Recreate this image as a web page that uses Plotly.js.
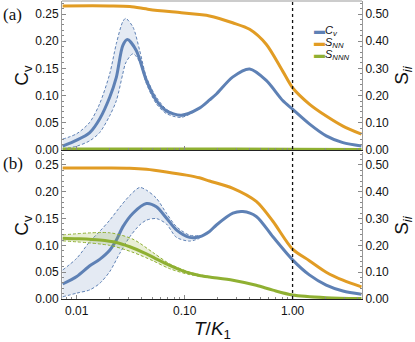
<!DOCTYPE html>
<html>
<head>
<meta charset="utf-8">
<script src="https://cdn.plot.ly/plotly-3.0.1.min.js"></script>
<style>
  body { margin: 0; background: #fff; }
  #chart { width: 415px; height: 342px; }
</style>
</head>
<body>
<div id="chart"></div>
<script>
// panel (a)
var tA = [0.0074, 0.010, 0.0132, 0.0163, 0.0202, 0.0233, 0.0267, 0.0295, 0.0356, 0.0442, 0.0547, 0.0677, 0.093, 0.137, 0.170, 0.197, 0.278, 0.40, 0.57, 0.81, 1.0, 1.43, 2.05, 2.93, 4.35];
var cvA = [0.007, 0.018, 0.032, 0.057, 0.097, 0.134, 0.192, 0.203, 0.183, 0.128, 0.091, 0.072, 0.064, 0.077, 0.092, 0.103, 0.134, 0.149, 0.128, 0.091, 0.075, 0.048, 0.026, 0.0135, 0.0074];
var tBandA = [0.0074, 0.010, 0.0132, 0.0163, 0.0202, 0.0233, 0.0267, 0.0284, 0.0332, 0.0383, 0.0442, 0.0547, 0.0677, 0.093, 0.137];
var cvUpA = [0.020, 0.030, 0.051, 0.085, 0.140, 0.196, 0.236, 0.242, 0.226, 0.183, 0.134, 0.097, 0.075, 0.063, 0.078];
var cvLoA = [0.002, 0.007, 0.017, 0.032, 0.063, 0.091, 0.140, 0.160, 0.177, 0.162, 0.122, 0.085, 0.067, 0.060, 0.076];
var tSA = [0.0074, 0.020, 0.031, 0.047, 0.093, 0.137, 0.170, 0.278, 0.40, 0.57, 0.81, 1.0, 1.43, 2.05, 2.93, 4.35];
var snnA = [0.530, 0.530, 0.528, 0.517, 0.505, 0.498, 0.493, 0.468, 0.444, 0.389, 0.290, 0.229, 0.169, 0.125, 0.088, 0.058];
var tGA = [0.0074, 0.1, 1.0, 4.35];
var snnnA = [0.004, 0.004, 0.003, 0.002];

// panel (b)
var tB = [0.0074, 0.010, 0.0132, 0.0163, 0.0202, 0.0233, 0.0268, 0.0332, 0.0442, 0.0547, 0.0677, 0.0838, 0.111, 0.137, 0.170, 0.197, 0.280, 0.346, 0.461, 0.657, 1.0, 1.43, 2.05, 2.93, 4.35];
var cvB = [0.028, 0.042, 0.062, 0.074, 0.091, 0.110, 0.135, 0.160, 0.178, 0.172, 0.151, 0.129, 0.115, 0.116, 0.126, 0.138, 0.160, 0.163, 0.154, 0.116, 0.073, 0.045, 0.026, 0.015, 0.009];
var tBandB = [0.0074, 0.010, 0.0132, 0.0163, 0.0202, 0.025, 0.031, 0.0383, 0.0442, 0.0547, 0.0677, 0.0838, 0.111, 0.137];
var cvUpB = [0.054, 0.076, 0.107, 0.126, 0.147, 0.171, 0.193, 0.208, 0.203, 0.188, 0.160, 0.135, 0.119, 0.118];
var cvLoB = [0.004, 0.011, 0.017, 0.029, 0.051, 0.085, 0.116, 0.138, 0.147, 0.150, 0.140, 0.115, 0.108, 0.113];
var tSB = [0.0074, 0.020, 0.031, 0.0442, 0.0677, 0.1037, 0.137, 0.170, 0.280, 0.461, 0.657, 1.0, 1.43, 2.05, 2.93, 4.35];
var snnB = [0.489, 0.489, 0.488, 0.484, 0.474, 0.462, 0.452, 0.440, 0.413, 0.364, 0.290, 0.186, 0.143, 0.100, 0.070, 0.045];
var tGB = [0.0074, 0.010, 0.0163, 0.0233, 0.031, 0.0442, 0.0677, 0.1037, 0.137, 0.170, 0.280, 0.461, 0.657, 1.0, 2.05, 4.35];
var snnnB = [0.227, 0.225, 0.220, 0.211, 0.195, 0.168, 0.131, 0.100, 0.088, 0.082, 0.070, 0.051, 0.033, 0.015, 0.005, 0.002];
var tGBand = [0.0074, 0.0202, 0.0332, 0.0506, 0.0727, 0.1113, 0.170];
var snnnUpB = [0.239, 0.247, 0.223, 0.174, 0.131, 0.100, 0.083];
var snnnLoB = [0.217, 0.200, 0.174, 0.143, 0.113, 0.091, 0.080];

var tMark = 1.0;

var blue = "#5E81B5", orange = "#E19C24", green = "#8FB032";

function curve(x, y, color, xa, ya) {
    return {x: x, y: y, xaxis: xa, yaxis: ya, mode: "lines", hoverinfo: "skip",
        line: {color: color, width: 3, shape: "spline", smoothing: 0.8}};
}
function edge(x, y, color, xa, ya, fill) {
    var t = {x: x, y: y, xaxis: xa, yaxis: ya, mode: "lines", hoverinfo: "skip",
        line: {color: color, width: 1, dash: "3px,2px", shape: "spline", smoothing: 0.8}};
    if (fill) { t.fill = "tonexty"; t.fillcolor = fill; }
    return t;
}

var data = [
    edge(tBandA, cvLoA, blue, "x", "y"),
    edge(tBandA, cvUpA, blue, "x", "y", "rgba(94,129,181,0.17)"),
    curve(tA, cvA, blue, "x", "y"),
    curve(tSA, snnA, orange, "x", "y2"),
    curve(tGA, snnnA, green, "x", "y2"),

    edge(tBandB, cvLoB, blue, "x2", "y3"),
    edge(tBandB, cvUpB, blue, "x2", "y3", "rgba(94,129,181,0.17)"),
    curve(tB, cvB, blue, "x2", "y3"),
    curve(tSB, snnB, orange, "x2", "y4"),
    edge(tGBand, snnnLoB, green, "x2", "y4"),
    edge(tGBand, snnnUpB, green, "x2", "y4", "rgba(143,176,50,0.2)"),
    curve(tGB, snnnB, green, "x2", "y4")
];

var tickFont = {family: "Liberation Sans, Arial, sans-serif", size: 12, color: "#111"};
var xRange = [Math.log10(0.0073), Math.log10(4.4)];

function xAxis(anchor, labels) {
    return {type: "log", range: xRange, anchor: anchor, showgrid: false, zeroline: false,
        showline: true, linecolor: "#222", linewidth: 1.3,
        ticks: "inside", ticklen: 4, tickcolor: "#888",
        tickvals: [0.01, 0.1, 1], ticktext: ["0.01", "0.10", "1.00"],
        showticklabels: labels, tickfont: tickFont,
        minor: {ticks: "inside", ticklen: 2, tickcolor: "#888", dtick: "D1"}};
}
function leftAxis(domain, title) {
    return {domain: domain, range: [0, 0.274], showgrid: false, zeroline: false,
        showline: true, linecolor: "#999", linewidth: 1,
        ticks: "inside", ticklen: 4, tickcolor: "#888",
        tick0: 0, dtick: 0.05, tickformat: ".2f", tickfont: tickFont,
        minor: {ticks: "inside", ticklen: 2, tickcolor: "#888", dtick: 0.01},
        title: {text: title, font: {family: "Liberation Sans, Arial, sans-serif", size: 19, color: "#111"}, standoff: 1}};
}
function rightAxis(over, title) {
    return {overlaying: over, side: "right", range: [0, 0.548], showgrid: false, zeroline: false,
        showline: true, linecolor: "#999", linewidth: 1,
        ticks: "inside", ticklen: 4, tickcolor: "#888",
        tick0: 0, dtick: 0.1, tickformat: ".2f", tickfont: tickFont,
        minor: {ticks: "inside", ticklen: 2, tickcolor: "#888", dtick: 0.02},
        title: {text: title, font: {family: "Liberation Sans, Arial, sans-serif", size: 19, color: "#111"}, standoff: 6}};
}

var legFont = {family: "Liberation Sans, Arial, sans-serif", size: 11, color: "#111"};
var layout = {
    width: 415, height: 342,
    margin: {l: 62, r: 53, t: 1, b: 43},
    paper_bgcolor: "#fff", plot_bgcolor: "#fff",
    showlegend: false,
    xaxis: xAxis("y", false),
    xaxis2: xAxis("y3", true),
    yaxis: leftAxis([0.5, 1], "C<sub>v</sub>"),
    yaxis2: rightAxis("y", "S<sub><i>ii</i></sub>"),
    yaxis3: leftAxis([0, 0.493], "C<sub>v</sub>"),
    yaxis4: rightAxis("y3", "S<sub><i>ii</i></sub>"),
    shapes: [
        {type: "line", xref: "x2", yref: "paper", x0: tMark, x1: tMark, y0: 0, y1: 1,
            line: {color: "#111", width: 1.3, dash: "dot"}},
        {type: "line", xref: "paper", yref: "paper", x0: 0, x1: 1, y0: 1, y1: 1,
            line: {color: "#999", width: 1}}
    ],
    annotations: [
        {text: "(a)", xref: "paper", yref: "paper", x: -0.165, y: 0.955, xanchor: "center", yanchor: "middle",
            showarrow: false, font: {family: "Liberation Serif, Times New Roman, serif", size: 17, color: "#111"}},
        {text: "(b)", xref: "paper", yref: "paper", x: -0.165, y: 0.455, xanchor: "center", yanchor: "middle",
            showarrow: false, font: {family: "Liberation Serif, Times New Roman, serif", size: 17, color: "#111"}},
        {text: "<i>T</i>/<i>K</i><sub>1</sub>", xref: "paper", yref: "paper", x: 0.5, y: -0.058,
            xanchor: "center", yanchor: "top", showarrow: false,
            font: {family: "Liberation Sans, Arial, sans-serif", size: 19, color: "#111"}},
        {text: "<span style='color:" + blue + "'>▬</span><i>C<sub>v</sub></i>", xref: "paper", yref: "paper",
            x: 0.833, y: 0.9, xanchor: "left", yanchor: "middle", showarrow: false, font: legFont},
        {text: "<span style='color:" + orange + "'>▬</span><i>S<sub>NN</sub></i>", xref: "paper", yref: "paper",
            x: 0.833, y: 0.858, xanchor: "left", yanchor: "middle", showarrow: false, font: legFont},
        {text: "<span style='color:" + green + "'>▬</span><i>S<sub>NNN</sub></i>", xref: "paper", yref: "paper",
            x: 0.833, y: 0.818, xanchor: "left", yanchor: "middle", showarrow: false, font: legFont}
    ]
};

Plotly.newPlot("chart", data, layout, {staticPlot: true, displayModeBar: false});
</script>
</body>
</html>
